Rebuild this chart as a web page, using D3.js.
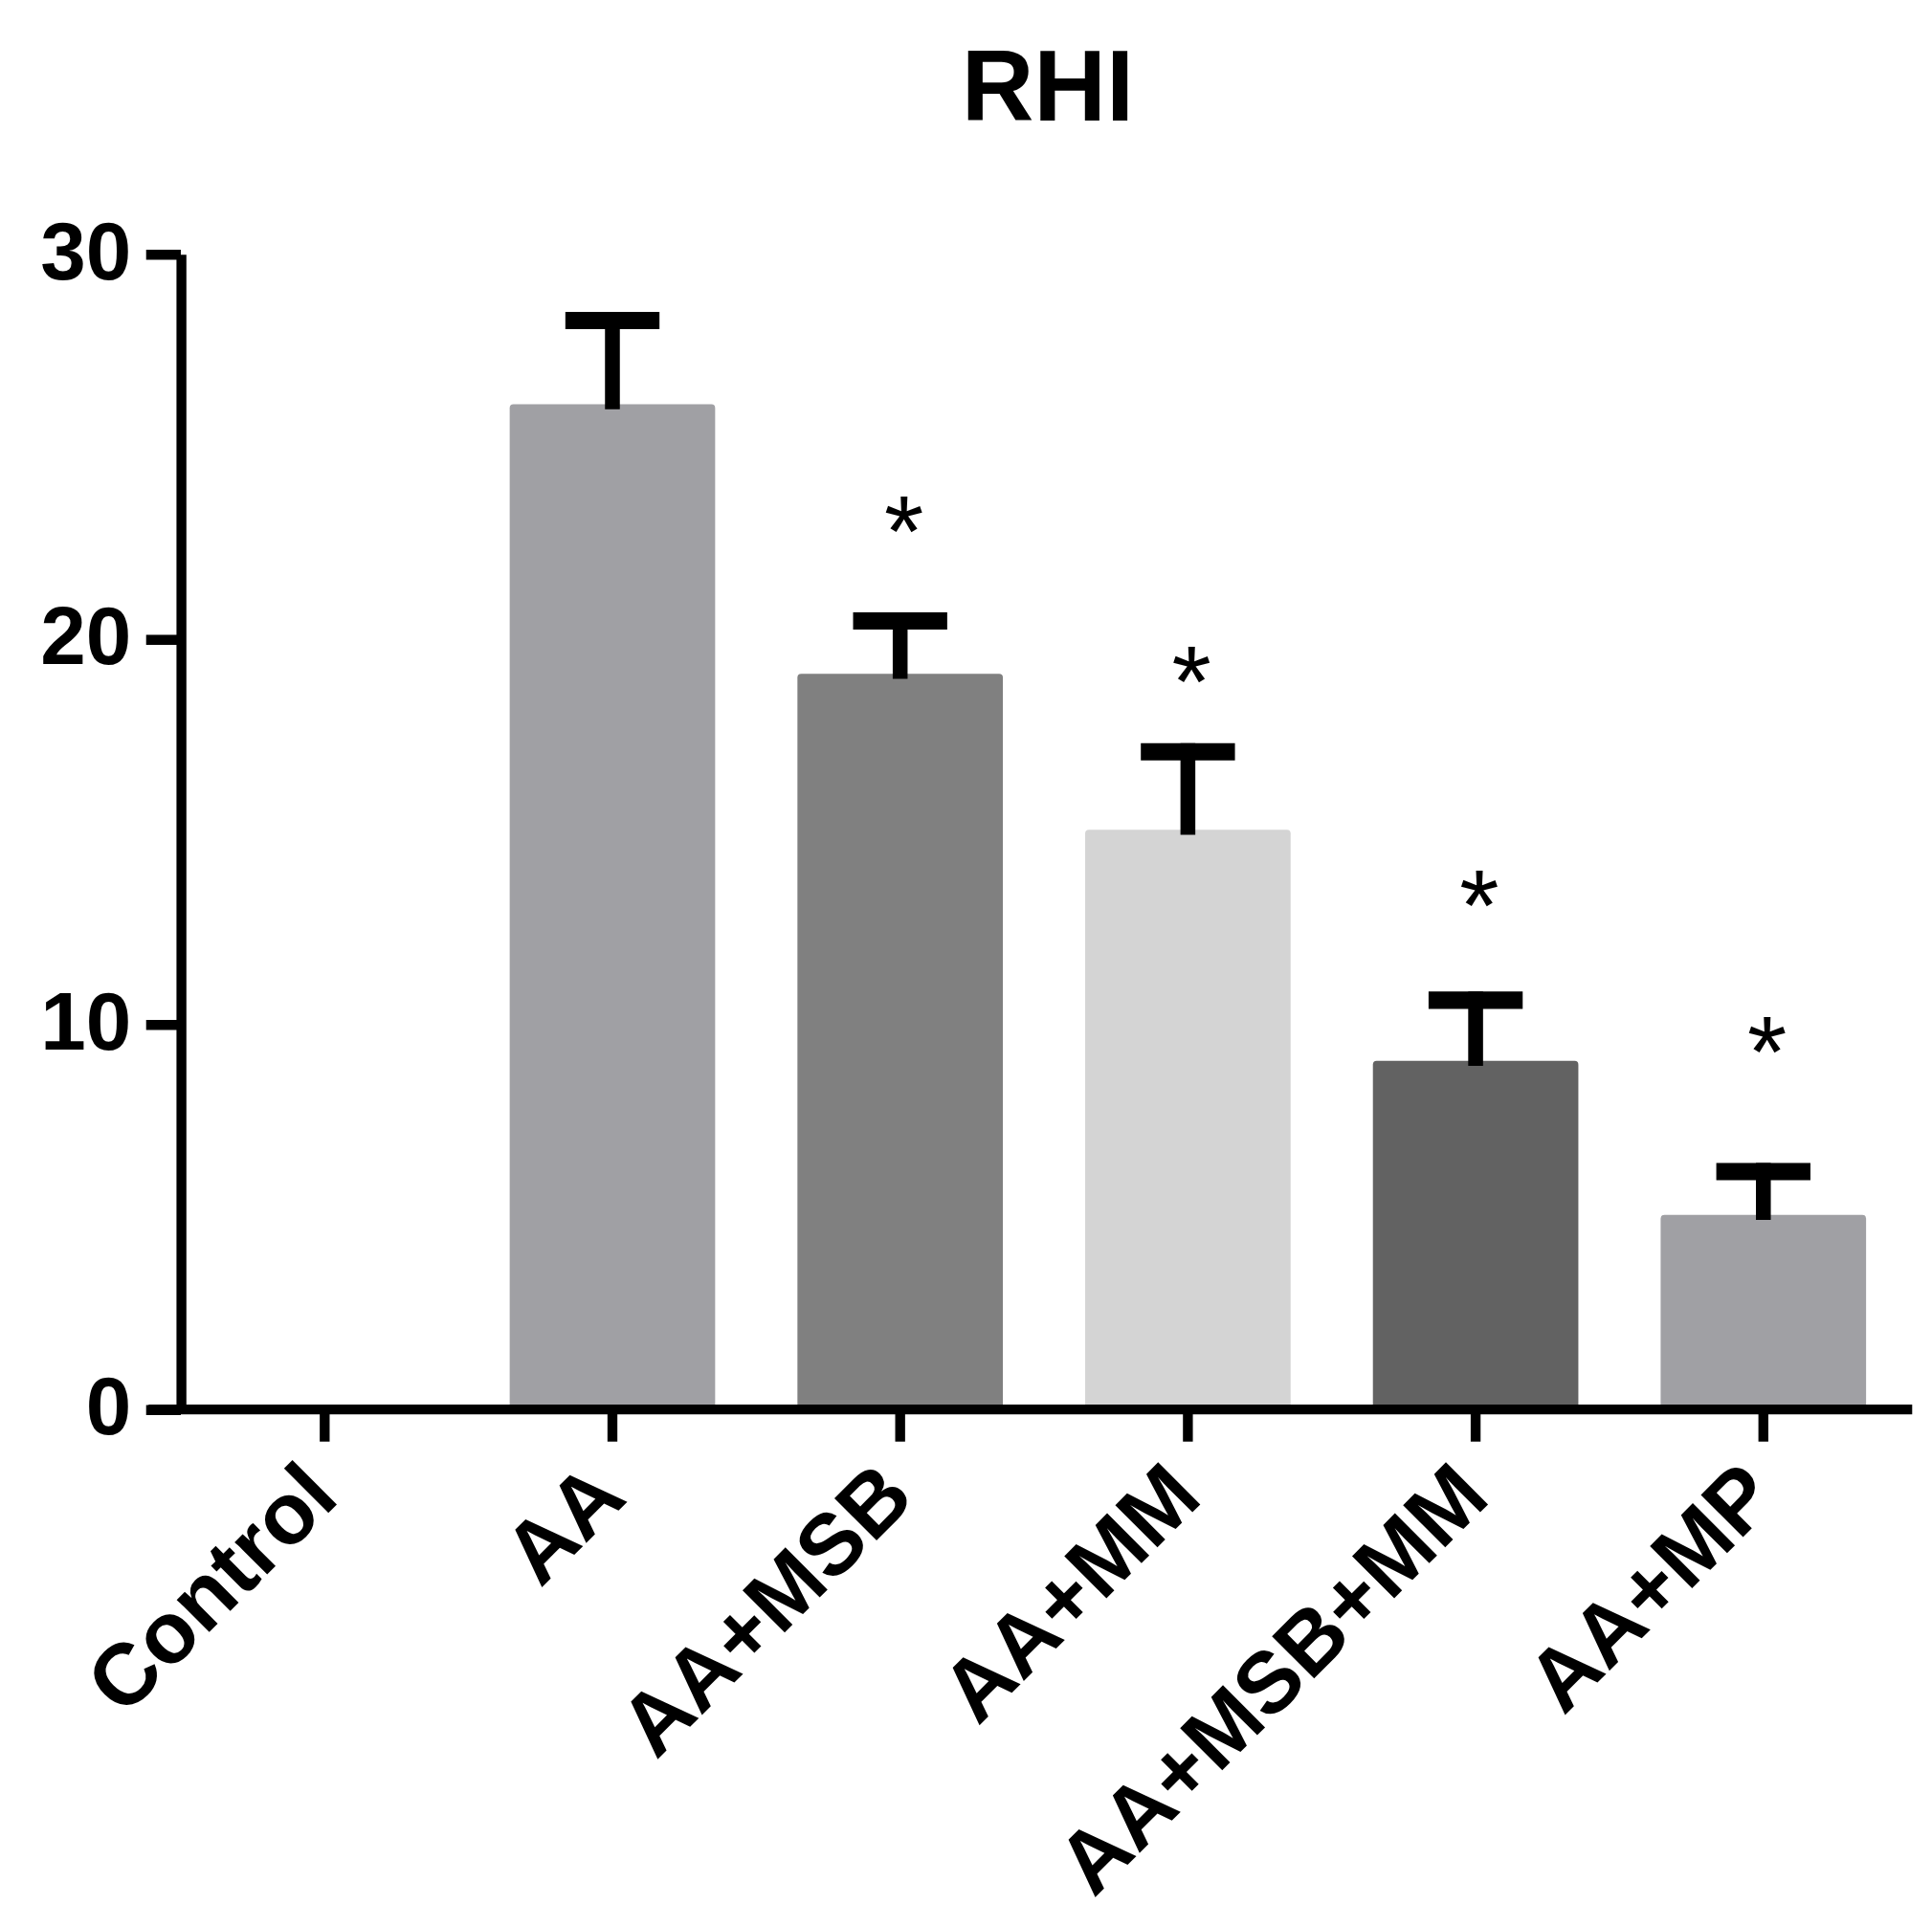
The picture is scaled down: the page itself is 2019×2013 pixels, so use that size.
<!DOCTYPE html>
<html>
<head>
<meta charset="utf-8">
<script src="https://cdn.jsdelivr.net/npm/d3@7"></script>
<style>
  html, body { margin: 0; padding: 0; background: #fff; }
  text { font-family: "Liberation Sans", Arial, sans-serif; }
</style>
</head>
<body>
<div id="chart"></div>
<script>
// RHI bar chart, mean + upper SEM
var groups = ["Control", "AA", "AA+MSB", "AA+MM", "AA+MSB+MM", "AA+MP"];
var means  = [0, 26.1, 19.1, 15.05, 9.05, 5.05];
var upper  = [0, 28.5, 20.7, 17.3, 10.85, 6.4];
// asterisk height (y value) for significant groups, null = none
var stars  = [null, null, 23.2, 19.3, 13.5, 9.7];
var fills  = ["#a0a0a4", "#a0a0a4", "#808080", "#d4d4d4", "#626262", "#a0a0a4"];
var yTicks = [0, 10, 20, 30];

var W = 1560, H = 1555;
var margin = {top: 205, right: 20, bottom: 417, left: 146},
    width = W - margin.left - margin.right,
    height = H - margin.top - margin.bottom;

var svg = d3.select("#chart").append("svg")
    .attr("width", 2019)
    .attr("height", 2013)
    .attr("viewBox", "0 0 " + W + " " + H);

svg.append("text")
    .attr("x", 846).attr("y", 97)
    .attr("text-anchor", "middle")
    .style("font-size", "81px").style("font-weight", "bold")
    .text("RHI");

var g = svg.append("g").attr("transform", "translate(" + margin.left + "," + margin.top + ")");

var x = d3.scaleBand().domain(groups).range([0, width])
    .paddingInner(0.286).paddingOuter(0.143);
var y = d3.scaleLinear().domain([0, 30]).range([height, 0]);

var data = groups.map(function(d, i){
    return {name: d, mean: means[i], up: upper[i], star: stars[i], fill: fills[i]};
});

// bars
g.selectAll("rect.bar").data(data.filter(function(d){ return d.mean > 0; }))
  .enter().append("rect")
    .attr("class", "bar")
    .attr("x", function(d){ return x(d.name); })
    .attr("width", x.bandwidth())
    .attr("y", function(d){ return y(d.mean); })
    .attr("height", function(d){ return height - y(d.mean); })
    .attr("rx", 3)
    .attr("fill", function(d){ return d.fill; });

// error bars (upper only)
var eb = g.selectAll("g.err").data(data.filter(function(d){ return d.up > d.mean; }))
  .enter().append("g").attr("class", "err");
eb.append("line")
    .attr("x1", function(d){ return x(d.name) + x.bandwidth() / 2; })
    .attr("x2", function(d){ return x(d.name) + x.bandwidth() / 2; })
    .attr("y1", function(d){ return y(d.mean) + 4; })
    .attr("y2", function(d){ return y(d.up); })
    .attr("stroke", "#000").attr("stroke-width", 12);
eb.append("line")
    .attr("x1", function(d){ return x(d.name) + x.bandwidth() / 2 - 38; })
    .attr("x2", function(d){ return x(d.name) + x.bandwidth() / 2 + 38; })
    .attr("y1", function(d){ return y(d.up) + 7; })
    .attr("y2", function(d){ return y(d.up) + 7; })
    .attr("stroke", "#000").attr("stroke-width", 14);

// asterisks
g.selectAll("text.star").data(data.filter(function(d){ return d.star !== null; }))
  .enter().append("text")
    .attr("class", "star")
    .attr("x", function(d){ return x(d.name) + x.bandwidth() / 2 + 3; })
    .attr("y", function(d){ return y(d.star) + 41; })
    .attr("text-anchor", "middle")
    .style("font-size", "82px")
    .text("*");

// y axis
var yAxis = g.append("g")
    .call(d3.axisLeft(y).tickValues(yTicks).tickSize(28).tickPadding(12).tickSizeOuter(0));
yAxis.select(".domain").attr("stroke-width", 8);
yAxis.selectAll(".tick line").attr("stroke-width", 8);
yAxis.selectAll(".tick text")
    .attr("dy", "0.3em")
    .style("font-size", "66px").style("font-weight", "bold").attr("fill", "#000");

// x axis
var xAxis = g.append("g")
    .attr("transform", "translate(0," + height + ")")
    .call(d3.axisBottom(x).tickSize(26).tickSizeOuter(0).tickPadding(0));
xAxis.select(".domain").attr("stroke-width", 8).attr("d", "M-26,0H" + (width + 4));
xAxis.selectAll(".tick line").attr("stroke-width", 8);
xAxis.selectAll(".tick text")
    .attr("text-anchor", "end")
    .attr("transform", "translate(-5,55) rotate(-45)")
    .attr("dy", 0)
    .style("font-size", "70px").style("font-weight", "bold").attr("fill", "#000");
</script>
</body>
</html>
